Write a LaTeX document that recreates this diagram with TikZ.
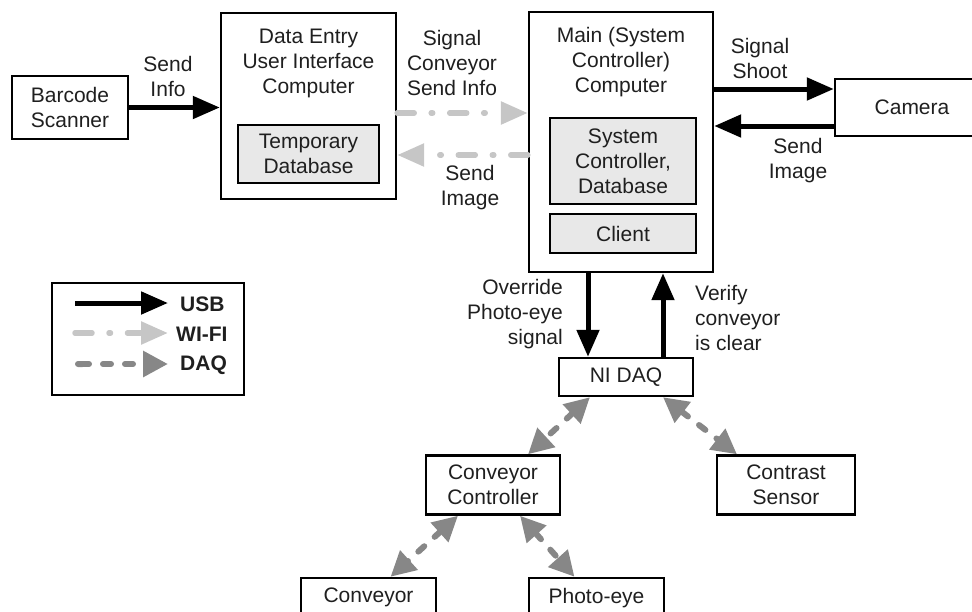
\documentclass[tikz,border=0pt]{standalone}
\usepackage{fontspec}
\setmainfont{Liberation Sans}
\usetikzlibrary{arrows.meta,positioning,calc}
\definecolor{wifigray}{HTML}{C6C6C6}
\definecolor{daqgray}{HTML}{878787}
\definecolor{dbfill}{HTML}{E8E8E8}

\begin{document}
\begin{tikzpicture}[x=1pt,y=-1pt,font=\fontsize{21}{25}\selectfont,text=black!88,
box/.style={draw,line width=2.4pt,align=center,inner sep=0pt},
subbox/.style={box,fill=dbfill},
lbl/.style={align=center,inner sep=0pt},
usb/.style={line width=5pt,-{Triangle[length=27pt,width=22pt]}},
wifi/.style={wifigray,line width=5.5pt,line cap=round,dash pattern=on 17pt off 17pt on 1.5pt off 17pt,-{Triangle[length=27pt,width=22pt]}},
daq/.style={daqgray,line width=6pt,line cap=round,dash pattern=on 8pt off 14pt,{Triangle[length=25pt,width=25pt]}-{Triangle[length=25pt,width=25pt]}}]
\useasboundingbox (0,0) rectangle (972,611);
\clip (0,0) rectangle (972,611);
% computers
\node[box,minimum width=116pt,minimum height=63pt] (scan) at (70,107.5) {Barcode\\Scanner};
\node[box,minimum width=175pt,minimum height=186pt] (ui) at (308.5,106) {};
\node[lbl] (uititle) at (308.5,63) {Data Entry\\User Interface\\Computer};
\node[subbox,minimum width=141pt,minimum height=58pt] (tmpdb) at (308.5,154) {Temporary\\Database};
\node[box,minimum width=184pt,minimum height=260pt] (main) at (621,142) {};
\node[lbl] (maintitle) at (621,62) {Main (System\\Controller)\\Computer};
\node[subbox,minimum width=146pt,minimum height=86pt] (sysdb) at (623,161) {System\\Controller,\\Database};
\node[subbox,minimum width=146pt,minimum height=39pt] (client) at (623,233.5) {Client};
\node[box,minimum width=154pt,minimum height=57pt] (cam) at (912,107.5) {Camera};
% daq side
\node[box,minimum width=134pt,minimum height=38pt] (daq) at (626,377) {NI DAQ};
\node[box,minimum width=134pt,minimum height=59pt] (cc) at (493,485) {Conveyor\\Controller};
\node[box,minimum width=138pt,minimum height=59pt] (contrast) at (786,485) {Contrast\\Sensor};
\node[box,minimum width=135pt,minimum height=60pt] (conv) at (368.5,608) {Conveyor\\ };
\node[box,minimum width=135pt,minimum height=60pt] (photo) at (596.5,608) {Photo-eye\\ };
% usb links
\draw[usb] (scan.east) -- (scan.east -| ui.west);
\node[lbl] (lsendinfo) at (168,76) {Send\\Info};
\draw[usb] (main.east |- 0,89) -- (cam.west |- 0,89);
\node[lbl] (lshoot) at (760,58) {Signal\\Shoot};
\draw[usb] (cam.west |- 0,126) -- (main.east |- 0,126);
\node[lbl] (lsendimg) at (798,161) {Send\\Image};
\draw[usb] (main.south -| 588,0) -- (daq.north -| 588,0);
\node[lbl,align=right,anchor=east] (loverride) at (563,314) {Override\\Photo-eye\\signal};
\draw[usb] (daq.north -| 663,0) -- (main.south -| 663,0);
\node[lbl,align=left,anchor=west] (lverify) at (695,318) {Verify\\conveyor\\is clear};
% wifi links
\draw[wifi] (ui.east |- 0,113) -- (main.west |- 0,113);
\node[lbl] (lsignal) at (452,63) {Signal\\Conveyor\\Send Info};
\draw[wifi] (main.west |- 0,155) -- (ui.east |- 0,155);
\node[lbl] (lsendimg2) at (470,188) {Send\\Image};
% daq links
\draw[daq] ($(daq.south)+(-36,0)$) -- ($(cc.north)+(35,0)$);
\draw[daq] ($(daq.south)+(37,0)$) -- ($(contrast.north)+(-49,0)$);
\draw[daq] ($(cc.south)+(-35,0)$) -- ($(conv.north)+(22,0)$);
\draw[daq] ($(cc.south)+(27,0)$) -- ($(photo.north)+(-22,0)$);
% legend
\node[box,minimum width=192pt,minimum height=112pt] (legend) at (148,339) {};
\node[lbl,anchor=west,font=\fontsize{21}{25}\bfseries] (lusb) at (180,304) {USB};
\node[lbl,anchor=west,font=\fontsize{21}{25}\bfseries] (lwifi) at (176,334) {WI-FI};
\node[lbl,anchor=west,font=\fontsize{21}{25}\bfseries] (ldaq) at (180,365) {DAQ};
\coordinate (kusb) at (75,303);
\coordinate (kwifi) at (75,333);
\coordinate (kdaq) at (75,364);
\draw[usb] (kusb) -- (kusb -| 168,0);
\draw[wifi] (kwifi) -- (kwifi -| 168,0);
\draw[daq,{Round Cap[]}-{Triangle[length=25pt,width=25pt]}] (kdaq) -- (kdaq -| 168,0);
\end{tikzpicture}
\end{document}
